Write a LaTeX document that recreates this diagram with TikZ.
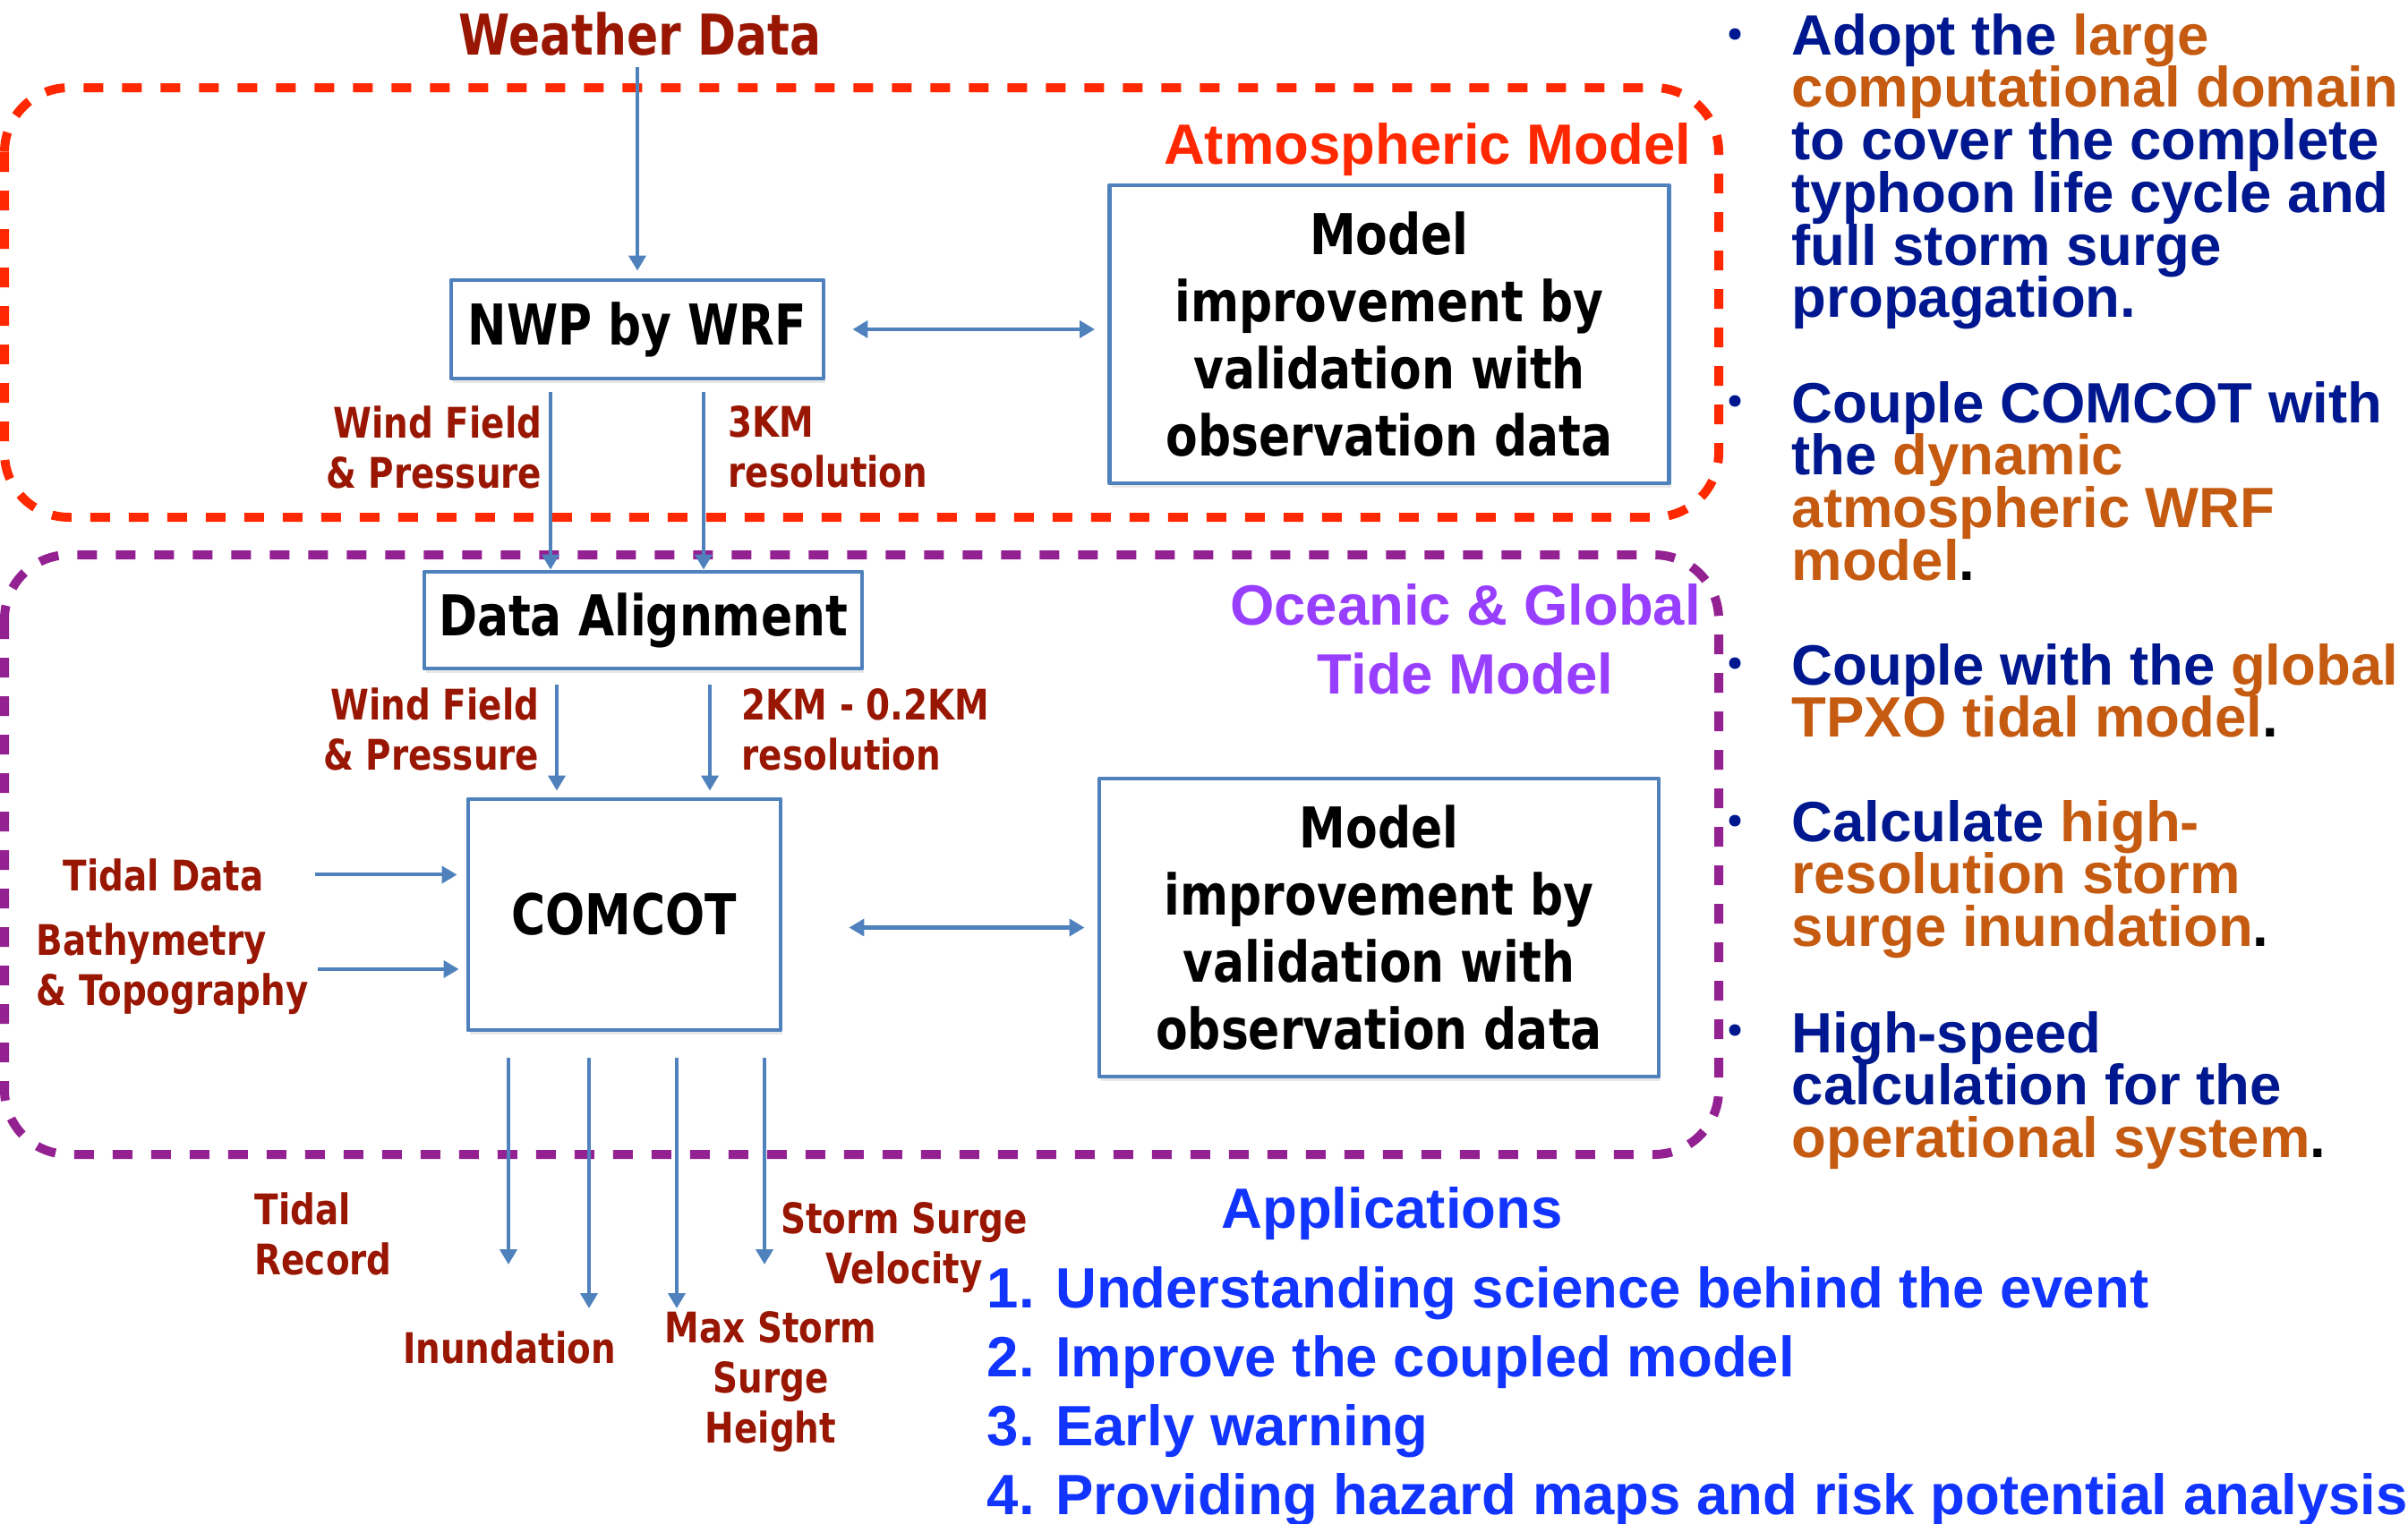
\documentclass[tikz,border=0pt]{standalone}
\usepackage{fontspec}
\usepackage{xcolor}
\usepackage{tikz}
\usetikzlibrary{arrows.meta}
\usetikzlibrary{positioning}
\usetikzlibrary{shadows}

\newfontfamily\diagfont[FakeStretch=0.825]{DejaVu Sans}
\newfontfamily\headfont{Liberation Sans}

\definecolor{boxblue}{RGB}{79,129,189}
\definecolor{labelred}{RGB}{152,22,2}
\definecolor{atmred}{RGB}{255,40,0}
\definecolor{tidepurple}{RGB}{148,33,146}
\definecolor{oceanviolet}{RGB}{152,62,255}
\definecolor{bulletnavy}{RGB}{0,24,143}
\definecolor{bulletorange}{RGB}{197,90,17}
\definecolor{appblue}{RGB}{18,52,255}

\lineskiplimit=-1cm

\begin{document}
\begin{tikzpicture}[
  line join=round,
  flow/.style={draw=boxblue, line width=1.15pt, -{Triangle[width=1.9mm,length=1.7mm]}},
  flowboth/.style={draw=boxblue, line width=1.15pt, {Triangle[width=1.9mm,length=1.7mm]}-{Triangle[width=1.9mm,length=1.7mm]}}
]
\tikzset{
    box/.style = {rectangle, draw=boxblue, line width=1.4pt, fill=white, align=center, inner sep=0pt,
      font=\diagfont\bfseries\fontsize{17.9}{21.3}\selectfont,
      drop shadow={opacity=0.18, shadow xshift=0.02cm, shadow yshift=-0.05cm}},
    lbl/.style = {inner sep=0pt, text=labelred, font=\diagfont\bfseries\fontsize{13.4}{15.9}\selectfont},
    title/.style = {inner sep=0pt, font=\headfont\bfseries\fontsize{18.07}{21.9}\selectfont},
    bullettext/.style = {anchor=north west, inner sep=0pt, align=left, text=bulletnavy,
      font=\headfont\bfseries\fontsize{18.07}{16.7}\selectfont},
    modelzone/.style = {line width=1mm, dash pattern=on 2.2mm off 2.1mm, rounded corners=0.72cm}
}
\useasboundingbox (0,0) rectangle (26.9,-17.03);

\draw[modelzone, draw=atmred] (0.05,-0.98) rectangle (19.2,-5.78);
\draw[modelzone, draw=tidepurple] (0.05,-6.2) rectangle (19.2,-12.9);

\node[lbl, font=\diagfont\bfseries\fontsize{17.9}{21.3}\selectfont, anchor=base] (weather) at (7.15,-0.61) {Weather Data};
\node[title, text=atmred, anchor=base east] (atmtitle) at (18.9,-1.83) {Atmospheric Model};
\node[title, text=oceanviolet, align=center] (oceantitle) at (16.37,-7.14) {Oceanic \& Global\\Tide Model};

\node[box, minimum width=4.16cm, minimum height=1.1cm] (nwp) at (7.12,-3.68) {NWP by WRF};
\node[box, minimum width=6.25cm, minimum height=3.33cm] (model1) at (15.52,-3.735) {Model\\improvement by\\validation with\\observation data};
\node[box, minimum width=4.89cm, minimum height=1.08cm] (da) at (7.185,-6.93) {Data Alignment};
\node[box, minimum width=3.49cm, minimum height=2.58cm] (comcot) at (6.975,-10.22) {COMCOT};
\node[box, minimum width=6.25cm, minimum height=3.33cm] (model2) at (15.405,-10.365) {Model\\improvement by\\validation with\\observation data};

\node[lbl, align=right, anchor=east] (wind1) at (6.06,-4.995) {Wind Field\\\& Pressure};
\node[lbl, align=left, anchor=west] (res1) at (8.13,-4.995) {3KM\\resolution};
\node[lbl, align=right, anchor=east] (wind2) at (6.03,-8.15) {Wind Field\\\& Pressure};
\node[lbl, align=left, anchor=west] (res2) at (8.28,-8.15) {2KM - 0.2KM\\resolution};
\node[lbl, anchor=base west] (tidal) at (0.70,-9.95) {Tidal Data};
\node[lbl, align=left, anchor=west] (bathy) at (0.40,-10.83) {Bathymetry\\\& Topography};
\node[lbl, align=left, anchor=west] (tidrec) at (2.84,-13.79) {Tidal\\Record};
\node[lbl, anchor=base] (inund) at (5.69,-15.23) {Inundation};
\node[lbl, align=center] (maxsurge) at (8.61,-15.44) {Max Storm\\Surge\\Height};
\node[lbl, align=center] (velo) at (10.10,-13.94) {Storm Surge\\Velocity};

\coordinate (out1) at (5.68,-14.13);
\coordinate (out2) at (6.58,-14.62);
\coordinate (out3) at (7.56,-14.62);
\coordinate (out4) at (8.54,-14.13);

\draw[flow, shorten <=1.2mm, shorten >=0.8mm] (nwp.north |- weather.south) -- (nwp.north);
\draw[flowboth, shorten <=3mm, shorten >=1.4mm] (nwp.east) -- (nwp.east -| model1.west);
\foreach \dx in {-9.7mm,7.4mm}
  \draw[flow, shorten <=1.3mm] ([xshift=\dx]nwp.south) -- ([xshift=\dx]nwp.south |- da.north);
\foreach \dx in {-9.65mm,7.45mm}
  \draw[flow, shorten <=1.6mm, shorten >=0.7mm] ([xshift=\dx]da.south) -- ([xshift=\dx]da.south |- comcot.north);
\draw[flow, shorten <=5.7mm, shorten >=1mm] (tidal.east) -- (tidal.east -| comcot.west);
\draw[flow, shorten <=1mm, shorten >=0.8mm] (bathy.east) -- (bathy.east -| comcot.west);
\draw[flowboth, shorten <=7.4mm, shorten >=1.4mm] (model2.west -| comcot.east) -- (model2.west);
\foreach \c in {out1,out2,out3,out4}
  \draw[flow, shorten <=2.9mm] (comcot.south -| \c) -- (\c);

\node[title, text=appblue, anchor=base] (apptitle) at (15.55,-13.72) {Applications};
\node[title, text=appblue, anchor=north west, align=left] (applist) at (11.02,-14.145)
  {1. Understanding science behind the event\\2. Improve the coupled model\\3. Early warning\\4. Providing hazard maps and risk potential analysis};

\foreach \y in {0.38,4.48,7.41,9.17,11.51}
  \fill[bulletnavy] (19.38,-\y) circle (0.065);
\node[bullettext] (adopt) at (20.01,-0.145) {Adopt the \textcolor{bulletorange}{large}\\\textcolor{bulletorange}{computational domain}\\to cover the complete\\typhoon life cycle and\\full storm surge\\propagation.};
\node[bullettext] (couplewrf) at (20.01,-4.255) {Couple COMCOT with\\the \textcolor{bulletorange}{dynamic}\\\textcolor{bulletorange}{atmospheric WRF}\\\textcolor{bulletorange}{model}\textcolor{black}{.}};
\node[bullettext] (coupletide) at (20.01,-7.185) {Couple with the \textcolor{bulletorange}{global}\\\textcolor{bulletorange}{TPXO tidal model}\textcolor{black}{.}};
\node[bullettext] (calc) at (20.01,-8.935) {Calculate \textcolor{bulletorange}{high-}\\\textcolor{bulletorange}{resolution storm}\\\textcolor{bulletorange}{surge inundation}\textcolor{black}{.}};
\node[bullettext] (speed) at (20.01,-11.295) {High-speed\\calculation for the\\\textcolor{bulletorange}{operational system}\textcolor{black}{.}};
\end{tikzpicture}
\end{document}
